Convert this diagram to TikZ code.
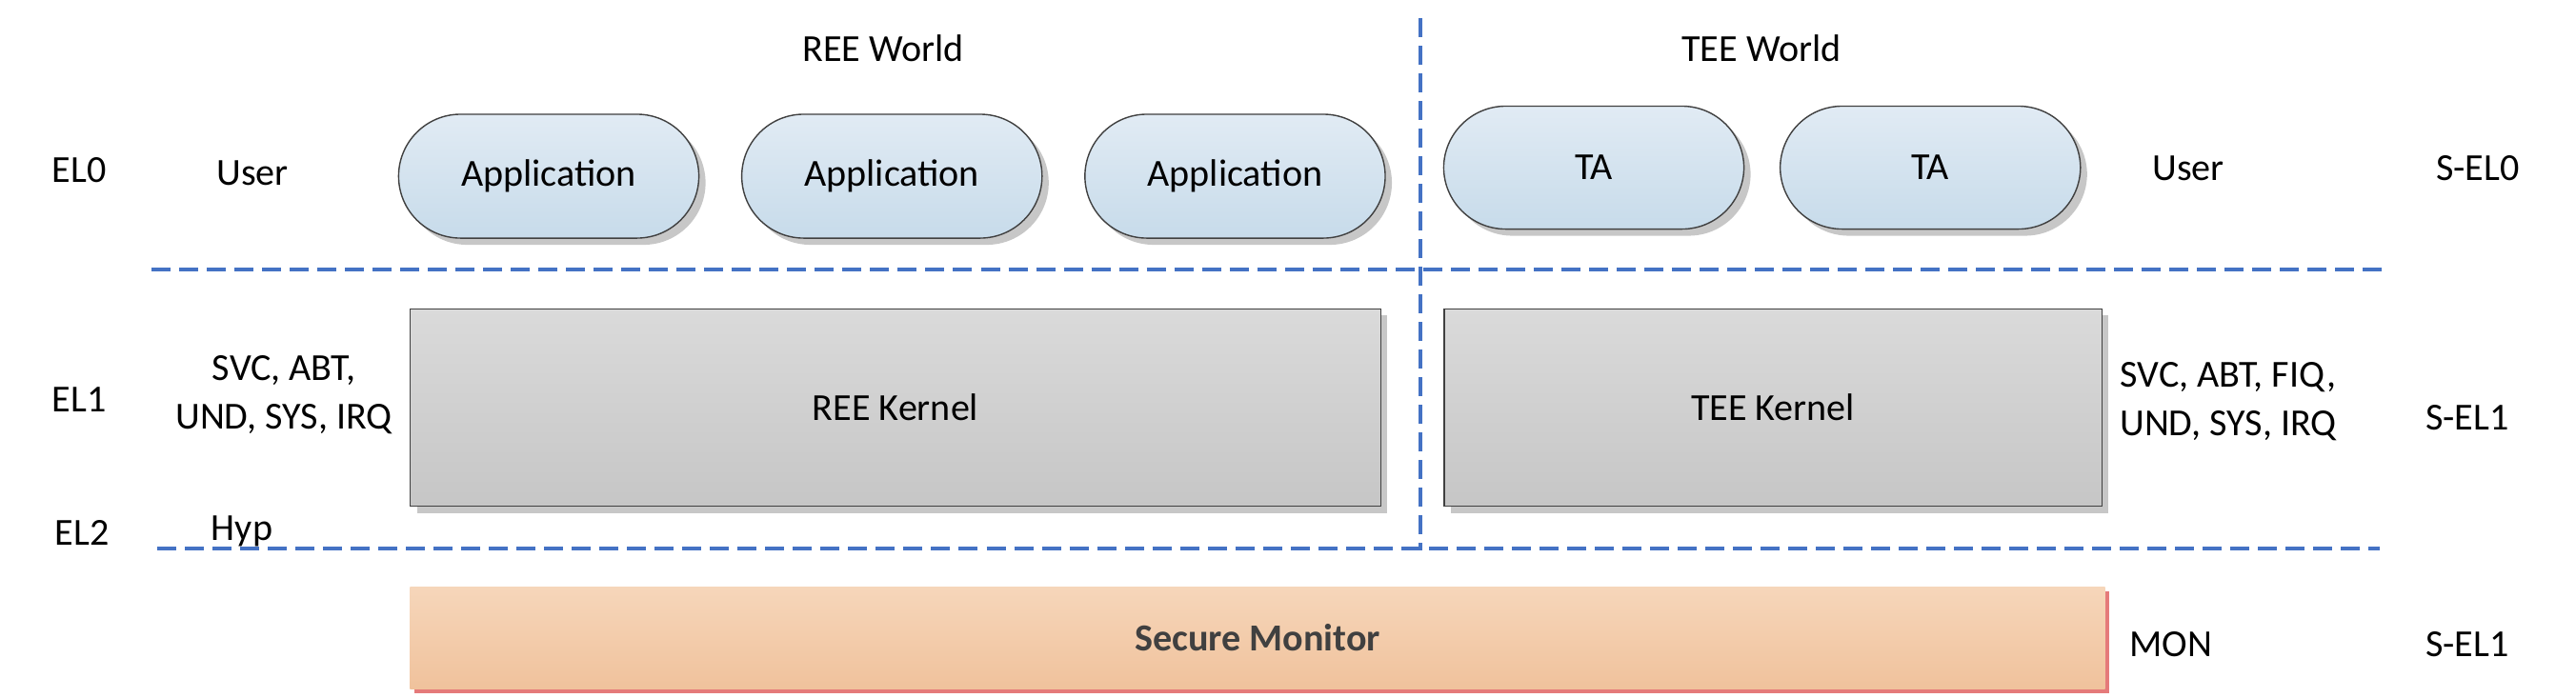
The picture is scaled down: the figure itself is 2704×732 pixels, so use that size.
\documentclass[tikz,border=0pt]{standalone}
\usepackage{fontspec}
\setmainfont{Carlito}
\usetikzlibrary{positioning, shadows}
\definecolor{sepblue}{HTML}{4472C4}
\definecolor{edgegray}{HTML}{404040}
\definecolor{pilltop}{HTML}{E1EBF4}
\definecolor{pillbot}{HTML}{C7DBEA}
\definecolor{kerntop}{HTML}{DADADA}
\definecolor{kernbot}{HTML}{C6C6C6}
\definecolor{montop}{HTML}{F6D6BA}
\definecolor{monbot}{HTML}{F0C29C}
\definecolor{monshadow}{HTML}{E57A7A}

\begin{document}
\begin{tikzpicture}[x=0.01cm,y=-0.01cm,node distance=3.6cm,on grid,
      every node/.style={font=\fontsize{11.4}{14.5}\selectfont,align=center},
      app/.style={draw=edgegray,line width=0.4pt,minimum width=3.15cm,minimum height=1.3cm,
        rounded corners=0.65cm,top color=pilltop,bottom color=pillbot,
        drop shadow={shadow xshift=0.7mm,shadow yshift=-0.7mm,fill=black!22,opacity=1}},
      kern/.style={draw=edgegray,line width=0.4pt,minimum height=2.07cm,
        top color=kerntop,bottom color=kernbot,
        drop shadow={shadow xshift=0.7mm,shadow yshift=-0.7mm,fill=black!22,opacity=1}},
      sep/.style={draw=sepblue,line width=1pt,dash pattern=on 0.2cm off 0.09cm}]
      \useasboundingbox (0,0) rectangle (2704,732);
      \draw[sep] (159,283) -- (2503,283);
      \draw[sep] (165,576) -- (2498,576);
      \draw[sep] (1491,19) -- (1491,578);
      \node (ree_w) at (927,51) {REE World};
      \node (tee_w) at (1849,51) {TEE World};
      \node[app] (app_1) at (576,185) {Application};
      \node[app] (app_2) [right=of app_1] {Application};
      \node[app] (app_3) [right=of app_2] {Application};
      \node[app, minimum height=1.29cm] (ta_1) at (1673,176) {TA};
      \node[app, minimum height=1.29cm] (ta_2) [right=3.53cm of ta_1] {TA};
      \node[kern, minimum width=10.18cm] (ree_k) at (940,428) {REE Kernel};
      \node[kern, minimum width=6.9cm] (tee_k) at (1861,428) {TEE Kernel};
      \node[minimum width=17.78cm,minimum height=1.06cm,top color=montop,bottom color=monbot,
        drop shadow={shadow xshift=0.45mm,shadow yshift=-0.45mm,fill=monshadow,opacity=1},
        text=edgegray,font=\fontsize{11.4}{14.5}\selectfont\bfseries] (mon) at (1320,670) {Secure Monitor};
      \node (el_0) at (83,179) {EL0};
      \node (el_1) at (83,420) {EL1};
      \node (el_2) at (86,559) {EL2};
      \node (user_n) at (265,182) {User};
      \node (modes_n) at (298,415) {SVC, ABT,\\UND, SYS, IRQ};
      \node (hyp) at (254,558) {Hyp};
      \node (user_s) at (2297,177) {User};
      \node (modes_s) at (2339,422) {SVC, ABT, FIQ,\\UND, SYS, IRQ};
      \node (mon_m) at (2279,677) {MON};
      \node (sel_0) at (2601,177) {S-EL0};
      \node (sel_1) at (2590,439) {S-EL1};
      \node (sel_m) at (2590,677) {S-EL1};
    \end{tikzpicture}
\end{document}
